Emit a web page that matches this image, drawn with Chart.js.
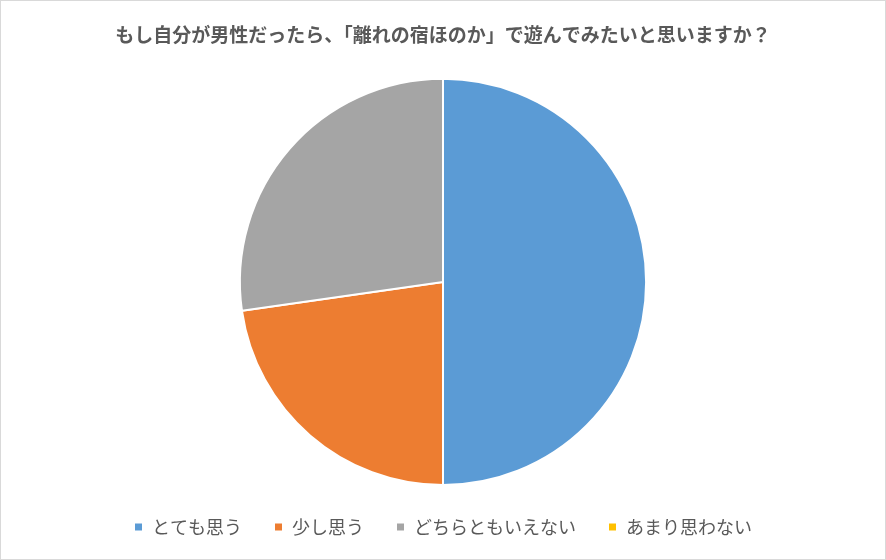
<!DOCTYPE html>
<html><head><meta charset="utf-8">
<script src="https://cdn.jsdelivr.net/npm/chart.js@4/dist/chart.umd.min.js"></script>
<style>
html,body{margin:0;padding:0;background:#fff;}
#wrap{position:absolute;left:0;top:0;width:884px;height:558px;border:1px solid #d9d9d9;}
</style></head>
<body>
<div id="wrap"><canvas id="c" width="884" height="558"></canvas></div>
<script>
const title = "もし自分が男性だったら、「離れの宿ほのか」で遊んでみたいと思いますか？";
const categories = ["とても思う", "少し思う", "どちらともいえない", "あまり思わない"];
const values = [11, 5, 6, 0];
const colors = ["#5B9BD5", "#ED7D31", "#A5A5A5", "#FFC000"];
const FONT = "'Noto Sans CJK JP', sans-serif";
new Chart(document.getElementById('c'), {
  type: 'pie',
  data: { labels: categories, datasets: [{ data: values, backgroundColor: colors, borderColor: '#fff', borderWidth: 2 }] },
  options: {
    responsive: false,
    animation: false,
    layout: { padding: { top: 0, bottom: 13, left: 0, right: 0 } },
    plugins: {
      tooltip: { enabled: false },
      title: { display: true, text: title, color: '#595959', font: { family: FONT, size: 19, weight: 'bold' }, padding: { top: 22, bottom: 32 } },
      legend: { position: 'bottom', labels: { color: '#595959', font: { family: FONT, size: 18 }, boxWidth: 9, boxHeight: 9, padding: 32 } }
    }
  }
});
</script>
</body></html>
